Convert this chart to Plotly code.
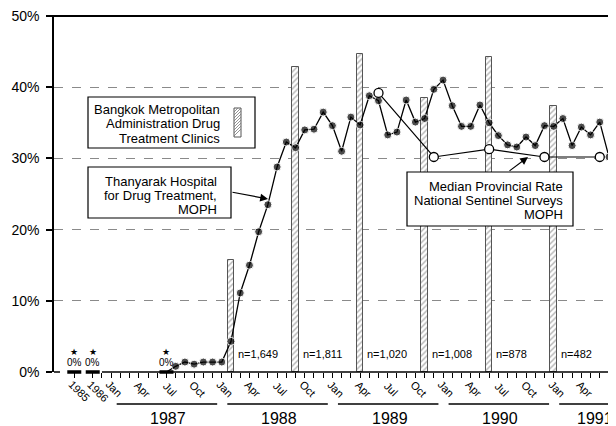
import plotly.graph_objects as go

# ---------------- data ----------------
annual_years = ["1985", "1986"]
annual_values = [0, 0]

# Thanyarak Hospital monthly rate, Jun 1987 .. Jun 1991
thanyarak_first = (1987, 6)
thanyarak_values = [
    0,
    0.8, 1.4, 1.1, 1.4, 1.4, 1.4,                                   # Jul-Dec 1987
    4.3, 11.1, 15.0, 19.7, 23.5, 28.8, 32.3, 31.5, 34.0, 34.1, 36.5, 34.6,  # 1988
    31.0, 35.8, 34.7, 38.8, 38.1, 33.3, 33.7, 38.2, 35.1, 35.6, 39.7, 41.0,  # 1989
    37.4, 34.5, 34.5, 37.5, 35.0, 33.2, 31.9, 31.6, 33.0, 31.8, 34.6, 34.5,  # 1990
    35.6, 31.8, 34.4, 33.3, 35.1, 30.2,                             # Jan-Jun 1991
]

bma_months = ["1988-01", "1988-08", "1989-03", "1989-10", "1990-05", "1990-12"]
bma_values = [15.7, 42.8, 44.7, 38.5, 44.2, 37.4]
bma_n = ["n=1,649", "n=1,811", "n=1,020", "n=1,008", "n=878", "n=482"]

median_months = ["1989-05", "1989-11", "1990-05", "1990-11", "1991-05"]
median_values = [39.2, 30.2, 31.3, 30.2, 30.2]

zero_star_points = ["1985", "1986", "1987-06"]

month_tick_names = ["Jan", "Apr", "Jul", "Oct"]
year_names = ["1987", "1988", "1989", "1990", "1991"]
y_tick_values = [0, 10, 20, 30, 40, 50]
y_tick_labels = ["0%", "10%", "20%", "30%", "40%", "50%"]

# ---------------- layout helpers ----------------
ANNUAL_SLOT = {"1985": -5, "1986": -3}
X_RANGE = [-7.2, 53.76]
FONT = "Liberation Sans, Arial, Helvetica, sans-serif"
PAGE_OFFSET = 8                      # default body margin of the html page
L0, T0, B0 = 54, 16, 372             # plot box in window pixels
W, H = 616 - PAGE_OFFSET, 426 - PAGE_OFFSET
L, T = L0 - PAGE_OFFSET, T0 - PAGE_OFFSET
PW, PH = W - L, B0 - T0


def pos(key):
    if key in ANNUAL_SLOT:
        return ANNUAL_SLOT[key]
    y, m = key.split("-")
    return (int(y) - 1987) * 12 + int(m) - 1


def PX(x):
    return (x - L0) / PW


def PY(y):
    return (B0 - y) / PH


thanyarak_months = []
yy, mm = thanyarak_first
for _ in thanyarak_values:
    thanyarak_months.append(f"{yy}-{mm:02d}")
    mm += 1
    if mm > 12:
        yy, mm = yy + 1, 1

fig = go.Figure()

# Bangkok Metropolitan Administration bars (hatched)
fig.add_trace(go.Bar(
    x=[pos(k) for k in bma_months], y=bma_values, width=0.72,
    marker=dict(color="white", line=dict(color="#555", width=1),
                pattern=dict(shape="/", fgcolor="#666", bgcolor="white", size=4, solidity=0.35)),
    hoverinfo="skip",
))

# Thanyarak Hospital line
fig.add_trace(go.Scatter(
    x=[pos(k) for k in thanyarak_months], y=thanyarak_values,
    mode="lines+markers", cliponaxis=False,
    line=dict(color="black", width=1.3),
    marker=dict(color="black", size=[0] + [8] * (len(thanyarak_values) - 1)),
))

# zero-value dashes (1985, 1986, Jun 1987)
fig.add_trace(go.Scatter(
    x=[pos(k) for k in zero_star_points],
    y=annual_values + [thanyarak_values[0]],
    mode="markers", cliponaxis=False,
    marker=dict(symbol="line-ew", size=10, line=dict(color="black", width=3.5)),
))

# Median provincial rate
fig.add_trace(go.Scatter(
    x=[pos(k) for k in median_months], y=median_values,
    mode="lines+markers", cliponaxis=False,
    line=dict(color="black", width=1.2),
    marker=dict(color="white", size=9, line=dict(color="black", width=1.3)),
))

annotations = []
shapes = []

# n= labels beside bars
for k, t in zip(bma_months, bma_n):
    annotations.append(dict(x=pos(k), y=0, xref="x", yref="y", text=t, showarrow=False,
                            xanchor="left", yanchor="middle", xshift=5, yshift=18,
                            font=dict(size=11, color="black", family=FONT)))

# star + 0% markers
for k in zero_star_points:
    annotations.append(dict(x=pos(k), y=0, xref="x", yref="y", text="0%", showarrow=False,
                            xanchor="center", yanchor="middle", yshift=10,
                            font=dict(size=10, color="black", family=FONT)))
    annotations.append(dict(x=pos(k), y=0, xref="x", yref="y", text="★", showarrow=False,
                            xanchor="center", yanchor="middle", yshift=20,
                            font=dict(size=9, color="black", family="DejaVu Sans")))

# rotated month / annual tick labels
for ylab in annual_years:
    annotations.append(dict(x=pos(ylab), y=0, xref="x", yref="y", text=ylab, showarrow=False,
                            textangle=45, xanchor="center", yanchor="middle",
                            xshift=5, yshift=-19,
                            font=dict(size=11, color="black", family=FONT)))
for yi, yname in enumerate(year_names):
    for mi, mname in enumerate(month_tick_names):
        m = yi * 12 + mi * 3
        if m > 54:
            continue
        annotations.append(dict(x=m, y=0, xref="x", yref="y", text=mname, showarrow=False,
                                textangle=45, xanchor="center", yanchor="middle",
                                xshift=-6, yshift=-17,
                                font=dict(size=11, color="black", family=FONT)))
    # year label + underline
    xc = yi * 12 + 5.2 if yname != "1991" else 51.5
    annotations.append(dict(x=xc, y=0, xref="x", yref="y", text=yname, showarrow=False,
                            xanchor="center", yanchor="middle", yshift=-46,
                            font=dict(size=16, color="black", family=FONT)))
    shapes.append(dict(type="line", xref="x", yref="paper", x0=yi * 12 - 0.4, x1=yi * 12 + 10.5,
                       y0=PY(404), y1=PY(404), line=dict(color="black", width=1.6)))

# axis lines
shapes.append(dict(type="line", xref="paper", yref="paper", x0=PX(50), x1=1, y0=1, y1=1,
                   line=dict(color="black", width=2)))
shapes.append(dict(type="line", xref="x", yref="paper", x0=-2, x1=54, y0=0, y1=0,
                   line=dict(color="black", width=1.5)))
shapes.append(dict(type="line", xref="paper", yref="paper", x0=0, x1=PX(60), y0=0, y1=0,
                   line=dict(color="black", width=1.5)))

# legend-like boxes
boxes = [
    ((88, 97, 255, 148), ["Bangkok Metropolitan", "Administration Drug", "Treatment Clinics"],
     222, [110, 124, 138]),
    ((88, 167, 231, 218), ["Thanyarak Hospital", "for Drug Treatment,", "MOPH"],
     219, [181, 195, 209]),
    ((407, 172, 573, 226), ["Median Provincial Rate", "National Sentinel Surveys", "MOPH"],
     565, [186.5, 200.5, 214.5]),
]
for (x0, y0, x1, y1), lines, xr, ys in boxes:
    shapes.append(dict(type="rect", xref="paper", yref="paper", x0=PX(x0), x1=PX(x1),
                       y0=PY(y1), y1=PY(y0), fillcolor="white", layer="above",
                       line=dict(color="black", width=1.2)))
    for txt, yc in zip(lines, ys):
        annotations.append(dict(x=PX(xr), y=PY(yc), xref="paper", yref="paper", text=txt,
                                showarrow=False, xanchor="right", yanchor="middle",
                                font=dict(size=13, color="black", family=FONT)))

# hatched swatch in box 1
sx0, sx1, sy0, sy1 = 234, 241, 108, 137
shapes.append(dict(type="rect", xref="paper", yref="paper", x0=PX(sx0), x1=PX(sx1),
                   y0=PY(sy1), y1=PY(sy0), fillcolor="white", layer="above",
                   line=dict(color="#555", width=1)))
path = ""
for yb in range(sy0 + 4, sy1 + 1, 3):
    ya = yb - (sx1 - sx0)
    xa = sx1
    if ya < sy0:
        xa = sx0 + (yb - sy0)
        ya = sy0
    path += f"M{PX(sx0)},{PY(yb)} L{PX(xa)},{PY(ya)} "
shapes.append(dict(type="path", xref="paper", yref="paper", path=path, layer="above",
                   line=dict(color="#777", width=0.8)))

# arrows
annotations.append(dict(x=PX(268), y=PY(199), xref="paper", yref="paper", text="",
                        showarrow=True, ax=-37, ay=-7, arrowhead=2, arrowsize=1.3,
                        arrowwidth=1.2, arrowcolor="black"))
annotations.append(dict(x=PX(528), y=PY(157), xref="paper", yref="paper", text="",
                        showarrow=True, ax=-20, ay=15, arrowhead=2, arrowsize=1.3,
                        arrowwidth=1.2, arrowcolor="black"))

monthly_ticks = list(range(-2, 54))
fig.update_layout(
    width=W, height=H, margin=dict(l=L, r=0, t=T, b=H - (B0 - PAGE_OFFSET)),
    plot_bgcolor="white", paper_bgcolor="white", showlegend=False,
    font=dict(family=FONT, color="black"),
    bargap=0,
    xaxis=dict(range=X_RANGE, showgrid=False, zeroline=False, showline=False,
               ticks="outside", ticklen=5, tickwidth=1.2, tickcolor="black",
               tickvals=[ANNUAL_SLOT[y] for y in annual_years] + monthly_ticks,
               showticklabels=False, fixedrange=True),
    yaxis=dict(range=[0, 50], tickvals=y_tick_values, ticktext=y_tick_labels,
               ticks="outside", ticklen=6, tickwidth=1.5, tickcolor="black",
               showline=True, linecolor="black", linewidth=1.5,
               showgrid=True, gridcolor="#8a8a8a", gridwidth=1, griddash="dash",
               zeroline=False, ticklabelstandoff=4, ticklabeloverflow="allow",
               tickfont=dict(size=14, color="black", family=FONT)),
    shapes=shapes, annotations=annotations,
)

fig.write_html("out.html")
